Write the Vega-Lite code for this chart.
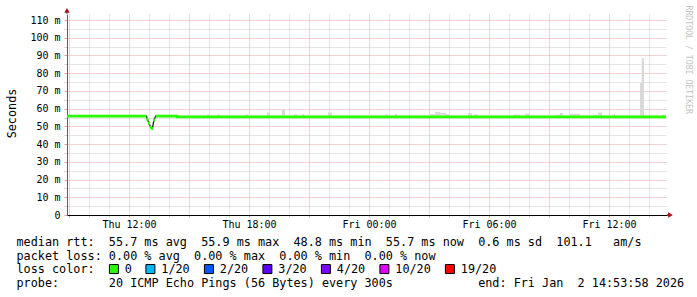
{
  "$schema": "https://vega.github.io/schema/vega-lite/v6.json",
  "width": 600,
  "height": 201,
  "autosize": {"type": "none"},
  "padding": {"left": 67, "top": 14, "right": 30, "bottom": 82},
  "background": "#ffffff",
  "config": {"view": {"stroke": null}, "font": "DejaVu Sans Mono"},
  "datasets": {
    "median": [
      {"t": "2026-01-01T08:54:00Z", "rtt": 55.8, "loss": "0", "part": "a"},
      {"t": "2026-01-01T12:52:00Z", "rtt": 55.8, "loss": "0", "part": "a"},
      {"t": "2026-01-01T12:55:00Z", "rtt": 54.0, "loss": "0", "part": "dip"},
      {"t": "2026-01-01T13:00:00Z", "rtt": 51.8, "loss": "0", "part": "dip"},
      {"t": "2026-01-01T13:05:00Z", "rtt": 49.6, "loss": "0", "part": "dip"},
      {"t": "2026-01-01T13:10:00Z", "rtt": 48.8, "loss": "0", "part": "dip"},
      {"t": "2026-01-01T13:15:00Z", "rtt": 53.6, "loss": "0", "part": "dip"},
      {"t": "2026-01-01T13:20:00Z", "rtt": 55.8, "loss": "0", "part": "b"},
      {"t": "2026-01-01T14:24:00Z", "rtt": 55.8, "loss": "0", "part": "b"},
      {"t": "2026-01-01T14:24:30Z", "rtt": 55.4, "loss": "0", "part": "b"},
      {"t": "2026-01-02T14:51:00Z", "rtt": 55.4, "loss": "0", "part": "b"}
    ],
    "smoke": [
      {"t0": "2026-01-01T15:54:00Z", "t1": "2026-01-01T16:03:00Z", "lo": 55.4, "hi": 56.7},
      {"t0": "2026-01-01T16:24:00Z", "t1": "2026-01-01T16:33:00Z", "lo": 55.4, "hi": 56.7},
      {"t0": "2026-01-01T17:48:00Z", "t1": "2026-01-01T17:57:00Z", "lo": 55.4, "hi": 56.7},
      {"t0": "2026-01-01T18:54:00Z", "t1": "2026-01-01T19:03:00Z", "lo": 55.4, "hi": 57.9},
      {"t0": "2026-01-01T19:38:00Z", "t1": "2026-01-01T19:48:00Z", "lo": 55.4, "hi": 59.4},
      {"t0": "2026-01-01T20:15:00Z", "t1": "2026-01-01T20:24:00Z", "lo": 55.4, "hi": 56.8},
      {"t0": "2026-01-01T20:39:00Z", "t1": "2026-01-01T20:45:00Z", "lo": 55.4, "hi": 57.0},
      {"t0": "2026-01-01T21:57:00Z", "t1": "2026-01-01T22:09:00Z", "lo": 55.4, "hi": 57.8},
      {"t0": "2026-01-02T00:48:00Z", "t1": "2026-01-02T00:57:00Z", "lo": 55.4, "hi": 56.8},
      {"t0": "2026-01-02T01:18:00Z", "t1": "2026-01-02T01:24:00Z", "lo": 55.4, "hi": 57.0},
      {"t0": "2026-01-02T03:03:00Z", "t1": "2026-01-02T03:18:00Z", "lo": 55.4, "hi": 56.9},
      {"t0": "2026-01-02T03:18:00Z", "t1": "2026-01-02T03:33:00Z", "lo": 55.4, "hi": 58.2},
      {"t0": "2026-01-02T03:33:00Z", "t1": "2026-01-02T03:51:00Z", "lo": 55.4, "hi": 57.7},
      {"t0": "2026-01-02T03:51:00Z", "t1": "2026-01-02T04:03:00Z", "lo": 55.4, "hi": 56.9},
      {"t0": "2026-01-02T04:57:00Z", "t1": "2026-01-02T05:09:00Z", "lo": 55.4, "hi": 57.5},
      {"t0": "2026-01-02T05:12:00Z", "t1": "2026-01-02T05:27:00Z", "lo": 55.4, "hi": 56.8},
      {"t0": "2026-01-02T07:12:00Z", "t1": "2026-01-02T07:33:00Z", "lo": 55.4, "hi": 56.7},
      {"t0": "2026-01-02T07:48:00Z", "t1": "2026-01-02T08:03:00Z", "lo": 55.4, "hi": 57.2},
      {"t0": "2026-01-02T09:18:00Z", "t1": "2026-01-02T09:33:00Z", "lo": 55.4, "hi": 56.6},
      {"t0": "2026-01-02T09:33:00Z", "t1": "2026-01-02T09:42:00Z", "lo": 55.4, "hi": 57.6},
      {"t0": "2026-01-02T10:03:00Z", "t1": "2026-01-02T10:33:00Z", "lo": 55.4, "hi": 57.1},
      {"t0": "2026-01-02T11:12:00Z", "t1": "2026-01-02T11:27:00Z", "lo": 55.4, "hi": 56.6},
      {"t0": "2026-01-02T11:27:00Z", "t1": "2026-01-02T11:39:00Z", "lo": 55.4, "hi": 57.9},
      {"t0": "2026-01-02T12:09:00Z", "t1": "2026-01-02T12:18:00Z", "lo": 55.4, "hi": 56.8},
      {"t0": "2026-01-02T13:33:00Z", "t1": "2026-01-02T13:45:00Z", "lo": 55.4, "hi": 74.5},
      {"t0": "2026-01-02T13:38:00Z", "t1": "2026-01-02T13:45:00Z", "lo": 55.4, "hi": 88.5},
      {"t0": "2026-01-02T14:39:00Z", "t1": "2026-01-02T14:51:00Z", "lo": 55.4, "hi": 56.6}
    ],
    "one": [{}]
  },
  "layer": [
    {
      "data": {"name": "smoke"},
      "mark": {"type": "rect", "color": "#d9d9d9"},
      "encoding": {
        "x": {
          "field": "t0",
          "type": "temporal",
          "scale": {
            "type": "utc",
            "nice": false,
            "domain": [1767257638000, 1767365638000]
          },
          "axis": {
            "values": [1767258000000, 1767261600000, 1767265200000, 1767268800000, 1767272400000, 1767276000000, 1767279600000, 1767283200000, 1767286800000, 1767290400000, 1767294000000, 1767297600000, 1767301200000, 1767304800000, 1767308400000, 1767312000000, 1767315600000, 1767319200000, 1767322800000, 1767326400000, 1767330000000, 1767333600000, 1767337200000, 1767340800000, 1767344400000, 1767348000000, 1767351600000, 1767355200000, 1767358800000, 1767362400000],
            "labelExpr": "utchours(datum.value) % 6 == 0 ? utcFormat(datum.value, '%a %H:%M') : ''",
            "labelFont": "DejaVu Sans Mono",
            "labelFontSize": 10,
            "labelColor": "#000000",
            "labelPadding": 2,
            "labelOverlap": false,
            "labelFlush": false,
            "labelBound": false,
            "tickSize": 2,
            "tickColor": {"condition": {"test": "utchours(datum.value) % 3 == 0", "value": "#e0a0a0"}, "value": "#cccccc"},
            "grid": true,
            "gridColor": {"condition": {"test": "utchours(datum.value) % 3 == 0", "value": "#e4a4a4"}, "value": "#cccccc"},
            "gridDash": [1, 1],
            "gridWidth": 1,
            "domainColor": "#000000",
            "domainWidth": 1,
            "title": [
              "median\u00a0rtt:\u00a0\u00a055.7\u00a0ms\u00a0avg\u00a0\u00a055.9\u00a0ms\u00a0max\u00a0\u00a048.8\u00a0ms\u00a0min\u00a0\u00a055.7\u00a0ms\u00a0now\u00a0\u00a00.6\u00a0ms\u00a0sd\u00a0\u00a0101.1\u00a0\u00a0\u00a0am/s",
              "packet\u00a0loss:\u00a00.00\u00a0%\u00a0avg\u00a0\u00a00.00\u00a0%\u00a0max\u00a0\u00a00.00\u00a0%\u00a0min\u00a0\u00a00.00\u00a0%\u00a0now",
              "loss\u00a0color:",
              "probe:\u00a0\u00a0\u00a0\u00a0\u00a0\u00a0\u00a020\u00a0ICMP\u00a0Echo\u00a0Pings\u00a0(56\u00a0Bytes)\u00a0every\u00a0300s\u00a0\u00a0\u00a0\u00a0\u00a0\u00a0\u00a0\u00a0\u00a0\u00a0\u00a0\u00a0end:\u00a0Fri\u00a0Jan\u00a0\u00a02\u00a014:53:58\u00a02026"
            ],
            "titleFont": "DejaVu Sans Mono",
            "titleFontSize": 11.8,
            "titleFontWeight": "normal",
            "titleColor": "#000000",
            "titleAlign": "left",
            "titleAnchor": "start",
            "titleBaseline": "alphabetic",
            "titleX": -51,
            "titleY": 30.5,
            "titleLineHeight": 13.7,
            "titleLimit": 2000
          }
        },
        "x2": {"field": "t1"},
        "y": {
          "field": "lo",
          "type": "quantitative",
          "scale": {"domain": [0, 113.4], "nice": false, "zero": true},
          "axis": {
            "values": [0, 5, 10, 15, 20, 25, 30, 35, 40, 45, 50, 55, 60, 65, 70, 75, 80, 85, 90, 95, 100, 105, 110],
            "labelExpr": "datum.value % 10 == 0 ? (datum.value == 0 ? '0' : datum.value + ' m') : ''",
            "labelFont": "DejaVu Sans Mono",
            "labelFontSize": 10,
            "labelColor": "#000000",
            "labelPadding": 4,
            "labelOverlap": false,
            "labelBound": false,
            "labelFlush": false,
            "tickSize": 3,
            "tickColor": {"condition": {"test": "datum.value % 10 == 0", "value": "#e0a0a0"}, "value": "#cccccc"},
            "grid": true,
            "gridColor": {"condition": {"test": "datum.value % 10 == 0", "value": "#e4a4a4"}, "value": "#cccccc"},
            "gridDash": [1, 1],
            "gridWidth": 1,
            "domainColor": "#606060",
            "domainWidth": 1,
            "title": "Seconds",
            "titleFont": "DejaVu Sans Mono",
            "titleFontSize": 11.8,
            "titleFontWeight": "normal",
            "titleColor": "#000000",
            "titleAngle": 270,
            "titleAlign": "center",
            "titleBaseline": "alphabetic",
            "titleX": -52,
            "titleY": 99
          }
        },
        "y2": {"field": "hi"}
      }
    },
    {
      "data": {"name": "median"},
      "mark": {"type": "line", "color": "#1a1a1a", "strokeWidth": 1.3},
      "encoding": {
        "x": {"field": "t", "type": "temporal", "axis": null},
        "y": {
          "field": "rtt",
          "type": "quantitative",
          "axis": {
            "orient": "right",
            "labels": false,
            "ticks": false,
            "domain": false,
            "grid": false,
            "title": "RRDTOOL\u00a0/\u00a0TOBI\u00a0OETIKER",
            "titleFont": "DejaVu Sans Mono",
            "titleFontSize": 8.2,
            "titleFontWeight": "normal",
            "titleColor": "#c4c4c4",
            "titleAngle": 90,
            "titleAlign": "left",
            "titleBaseline": "alphabetic",
            "titleX": 18,
            "titleY": -9
          }
        }
      }
    },
    {
      "data": {"name": "median"},
      "transform": [{"filter": "datum.part != 'dip'"}],
      "mark": {"type": "line", "strokeWidth": 2.7, "strokeCap": "butt"},
      "encoding": {
        "x": {"field": "t", "type": "temporal", "axis": null},
        "y": {"field": "rtt", "type": "quantitative", "axis": null},
        "detail": {"field": "part"},
        "color": {
          "field": "loss",
          "type": "nominal",
          "scale": {
            "domain": ["0", "1/20", "2/20", "3/20", "4/20", "10/20", "19/20"],
            "range": ["#26ff00", "#00b8ff", "#0059ff", "#5e00ff", "#7e00ff", "#dd00ff", "#ff0000"]
          },
          "legend": null
        }
      }
    },
    {
      "data": {"name": "median"},
      "transform": [{"filter": "datum.part == 'dip'"}],
      "mark": {"type": "tick", "orient": "horizontal", "size": 2, "thickness": 3, "opacity": 1},
      "encoding": {
        "x": {"field": "t", "type": "temporal", "axis": null},
        "y": {"field": "rtt", "type": "quantitative", "axis": null},
        "color": {
          "field": "loss",
          "type": "nominal",
          "scale": {
            "domain": ["0", "1/20", "2/20", "3/20", "4/20", "10/20", "19/20"],
            "range": ["#26ff00", "#00b8ff", "#0059ff", "#5e00ff", "#7e00ff", "#dd00ff", "#ff0000"]
          },
          "legend": {
            "orient": "none",
            "legendX": 41,
            "legendY": 249,
            "direction": "horizontal",
            "title": null,
            "padding": 0,
            "symbolType": "square",
            "symbolSize": 81,
            "symbolStrokeColor": "#000000",
            "symbolStrokeWidth": 1,
            "symbolOpacity": 1,
            "labelFont": "DejaVu Sans Mono",
            "labelFontSize": 11.8,
            "labelColor": "#000000",
            "labelOffset": 5,
            "labelLimit": 200,
            "columnPadding": 11.5
          }
        }
      }
    },
    {
      "data": {"name": "one"},
      "mark": {"type": "rule", "color": "#606060"},
      "encoding": {
        "x": {"datum": 1767257638000, "type": "temporal", "axis": null},
        "y": {"datum": 113.4, "type": "quantitative", "axis": null},
        "y2": {"datum": 115.5}
      }
    },
    {
      "data": {"name": "one"},
      "mark": {"type": "rule", "color": "#000000"},
      "encoding": {
        "x": {"datum": 1767365638000, "type": "temporal", "axis": null},
        "x2": {"datum": 1767366058000},
        "y": {"datum": 0, "type": "quantitative", "axis": null}
      }
    },
    {
      "data": {"name": "one"},
      "mark": {"type": "point", "shape": "triangle-up", "filled": true, "color": "#a31515", "size": 30, "opacity": 1},
      "encoding": {
        "x": {"datum": 1767257638000, "type": "temporal", "axis": null},
        "y": {"datum": 115.4, "type": "quantitative", "axis": null}
      }
    },
    {
      "data": {"name": "one"},
      "mark": {"type": "point", "shape": "triangle-right", "filled": true, "color": "#a31515", "size": 30, "opacity": 1},
      "encoding": {
        "x": {"datum": 1767366268000, "type": "temporal", "axis": null},
        "y": {"datum": 0, "type": "quantitative", "axis": null}
      }
    }
  ],
  "resolve": {"legend": {"color": "independent"}, "axis": {"x": "independent", "y": "independent"}}
}
